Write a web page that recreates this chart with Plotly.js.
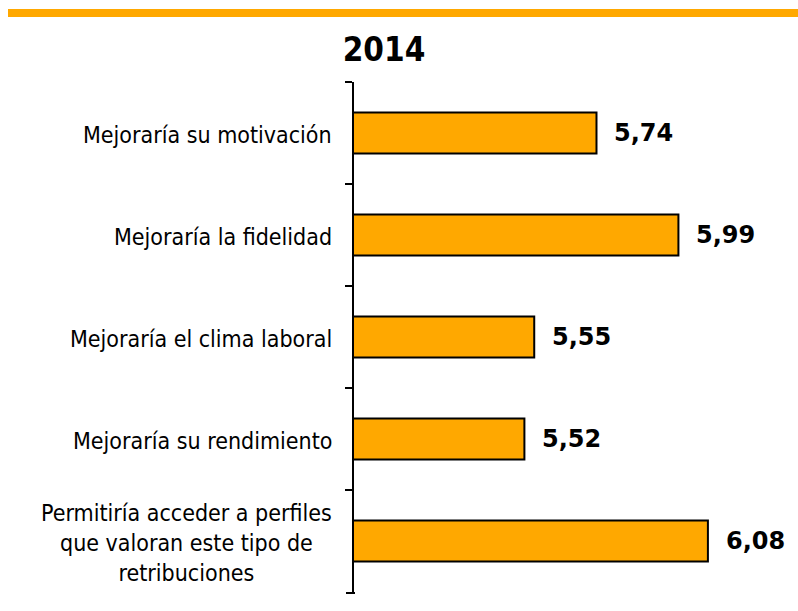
<!DOCTYPE html>
<html>
<head>
<meta charset="utf-8">
<script src="https://cdn.plot.ly/plotly-3.0.1.min.js"></script>
<style>html,body{margin:0;padding:0;background:#fff;}#chart{width:798px;height:611px;}</style>
</head>
<body>
<div id="chart"></div>
<script>
const categories = [
  "Mejoraría su motivación",
  "Mejoraría la fidelidad",
  "Mejoraría el clima laboral",
  "Mejoraría su rendimiento",
  "Permitiría acceder a perfiles<br>que valoran este tipo de<br>retribuciones"
];
const values = [5.74, 5.99, 5.55, 5.52, 6.08];
const valueLabels = values.map(v => v.toFixed(2).replace('.', ','));
const chartTitle = "2014";

const barColor = "#FFA800";
const labelFont = "DejaVu Sans Condensed, DejaVu Sans, sans-serif";
const valueFont = "DejaVu Sans, Verdana, sans-serif";

const trace = {
  type: "bar",
  orientation: "h",
  y: categories,
  x: values,
  marker: {color: barColor, line: {color: "#000", width: 2}},
  hoverinfo: "none"
};

const annotations = [];
categories.forEach((c, i) => {
  annotations.push({
    xref: "paper", yref: "y", x: 0, y: c, xanchor: "right", yanchor: "middle",
    xshift: -20, yshift: -2, text: c, showarrow: false, align: "center",
    font: {family: labelFont, size: 23, color: "#000"}
  });
  annotations.push({
    xref: "x", yref: "y", x: values[i], y: c, xanchor: "left", yanchor: "middle",
    xshift: 16, text: "<b>" + valueLabels[i] + "</b>", showarrow: false,
    font: {family: valueFont, size: 24, color: "#000"}
  });
});

const layout = {
  width: 798, height: 611,
  margin: {l: 354, r: 18, t: 82, b: 19},
  paper_bgcolor: "#fff", plot_bgcolor: "#fff",
  showlegend: false,
  bargap: 0.6,
  title: {
    text: "<b>" + chartTitle + "</b>",
    x: 384/798, xanchor: "center", xref: "container",
    y: 1 - 49/611, yanchor: "middle", yref: "container",
    font: {family: labelFont, size: 33, color: "#000"}
  },
  xaxis: {range: [5, 6.3], visible: false, fixedrange: true},
  yaxis: {
    type: "category", autorange: "reversed",
    showticklabels: false, ticks: "outside", tickson: "boundaries",
    ticklen: 7, tickwidth: 2, tickcolor: "#000",
    showline: true, linecolor: "#000", linewidth: 2,
    showgrid: false, zeroline: false, fixedrange: true
  },
  shapes: [{
    type: "rect", xref: "paper", yref: "paper",
    x0: (8 - 354) / 426, x1: (798 - 354) / 426,
    y0: 1 + (82 - 17) / 510, y1: 1 + (82 - 9) / 510,
    fillcolor: barColor, line: {width: 0}
  }, {
    type: "line", xref: "paper", yref: "paper", layer: "above",
    x0: -8 / 426, x1: 1 / 426, y0: -1 / 510, y1: -1 / 510,
    line: {color: "#000", width: 2}
  }],
  annotations: annotations
};

Plotly.newPlot("chart", [trace], layout, {displayModeBar: false, staticPlot: true});
</script>
</body>
</html>
